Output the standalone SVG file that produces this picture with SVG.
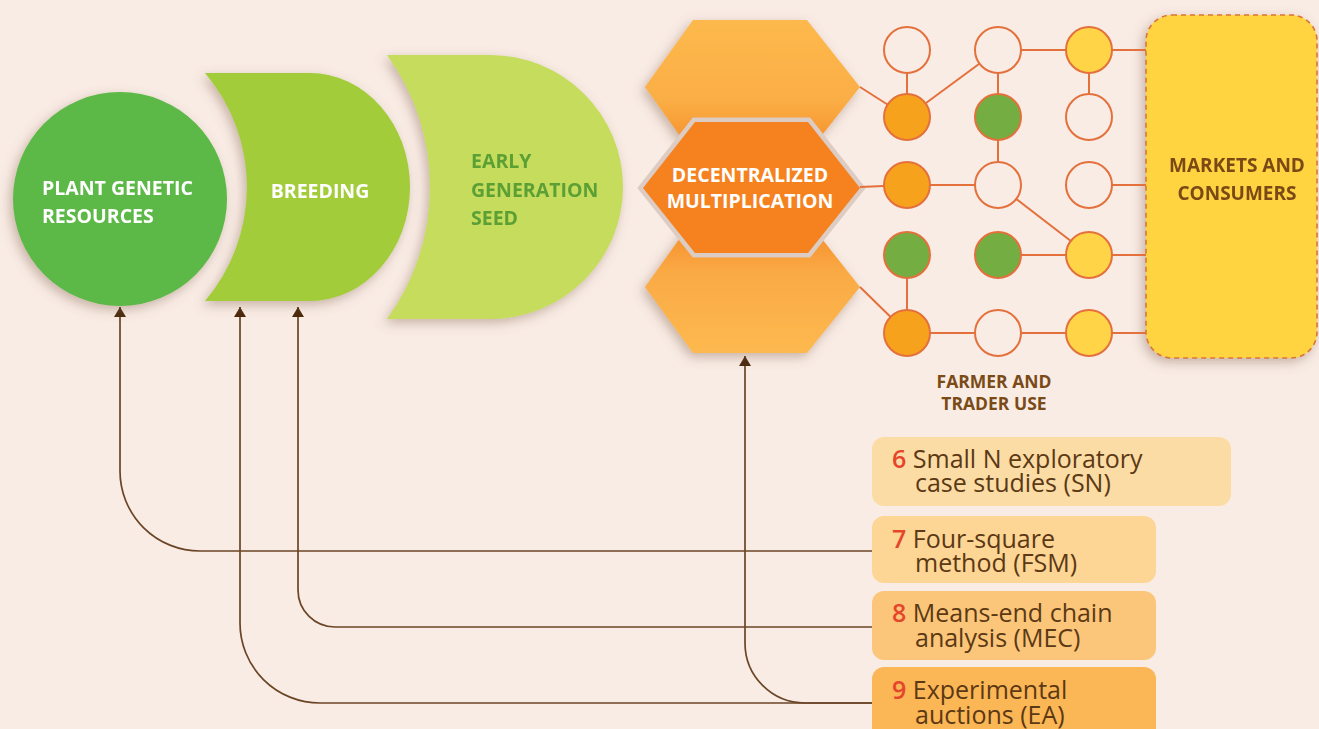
<svg xmlns="http://www.w3.org/2000/svg" width="1319" height="729" viewBox="0 0 1319 729">
<defs>
<filter id="sh" x="-20%" y="-20%" width="140%" height="140%">
<feDropShadow dx="-3" dy="4" stdDeviation="6" flood-color="#7a5646" flood-opacity="0.4"/>
</filter>
<linearGradient id="hexTop" x1="0" y1="0" x2="0" y2="1">
<stop offset="0" stop-color="#FDB94D"/><stop offset="0.6" stop-color="#FBAE45"/><stop offset="1" stop-color="#F48A27"/>
</linearGradient>
<linearGradient id="hexBot" x1="0" y1="0" x2="0" y2="1">
<stop offset="0" stop-color="#F48A27"/><stop offset="0.4" stop-color="#FAAA45"/><stop offset="1" stop-color="#FDB94F"/>
</linearGradient>
<marker id="arr" viewBox="0 0 10 12" refX="10" refY="6" markerWidth="10" markerHeight="12" markerUnits="userSpaceOnUse" orient="auto">
<path d="M0,0 L10,6 L0,12 Z" fill="#4B2A0C"/>
</marker>
<style>
.lbl{font-family:"Open Sans","Liberation Sans",sans-serif;font-weight:bold;}
.w{fill:#FFFFFF;}
.br{fill:#7A4A17;}
.net line{stroke:#E4703C;stroke-width:2;}
.nd{stroke:#E4703C;stroke-width:2;}
.e{fill:#F9ECE5;}
.o{fill:#F7A21D;}
.g{fill:#74AD41;}
.y{fill:#FFD447;}
.leg{font-family:"Open Sans","Liberation Sans",sans-serif;font-size:25px;fill:#5B3914;}
.num{font-weight:600;fill:#E5452A;}
.conn{fill:none;stroke:#6B4526;stroke-width:1.7;}
</style>
</defs>
<rect width="1319" height="729" fill="#F9ECE5"/>

<g id="connectors">
<path class="conn" d="M872,551 L200,551 A80,80 0 0 1 120,471 L120,307" marker-end="url(#arr)"/>
<path class="conn" d="M872,627 L335,627 A37,37 0 0 1 298,590 L298,307" marker-end="url(#arr)"/>
<path class="conn" d="M872,703 L320,703 A80,80 0 0 1 240,623 L240,307" marker-end="url(#arr)"/>
<path class="conn" d="M872,703 L805,703 A60,60 0 0 1 745,643 L745,356" marker-end="url(#arr)"/>
</g>

<g id="plant-genetic-resources" filter="url(#sh)">
<circle cx="120" cy="199" r="107" fill="#5CB847"/>
<text class="lbl w" font-size="19.5" x="42" y="195">PLANT GENETIC</text>
<text class="lbl w" font-size="19.5" x="42" y="223">RESOURCES</text>
</g>

<g id="breeding" filter="url(#sh)">
<path d="M205,73 L310,73 A100,114 0 0 1 310,301 L205,301 A176,176 0 0 0 205,73 Z" fill="#A3CC3A"/>
<text class="lbl w" font-size="19.5" x="320" y="198" text-anchor="middle">BREEDING</text>
</g>

<g id="early-generation-seed" filter="url(#sh)">
<path d="M387,55 L490,55 A133,132 0 0 1 490,319 L387,319 A224,224 0 0 0 387,55 Z" fill="#C6DC5D"/>
<text class="lbl" font-size="19.5" fill="#5BA035" x="471" y="168">EARLY</text>
<text class="lbl" font-size="19.5" fill="#5BA035" x="471" y="197">GENERATION</text>
<text class="lbl" font-size="19.5" fill="#5BA035" x="471" y="225">SEED</text>
</g>

<g id="hex-top" filter="url(#sh)">
<polygon points="693,20 807,20 860,87 807,154 693,154 645,87" fill="url(#hexTop)"/>
</g>
<g id="hex-bottom" filter="url(#sh)">
<polygon points="693,220 807,220 860,287 807,353 693,353 645,287" fill="url(#hexBot)"/>
</g>
<g id="decentralized-multiplication">
<polygon points="695,122 808,122 860,188 808,253 695,253 643,188" fill="#F5821F" stroke="#DCCCC3" stroke-width="9" stroke-linejoin="miter" paint-order="stroke"/>
<text class="lbl w" font-size="19.5" x="750" y="182" text-anchor="middle">DECENTRALIZED</text>
<text class="lbl w" font-size="19.5" x="750" y="208" text-anchor="middle">MULTIPLICATION</text>
</g>

<g id="markets-and-consumers" filter="url(#sh)">
<rect x="1146" y="15" width="171" height="343" rx="26" fill="#FFD43F" stroke="#D9763A" stroke-width="1.6" stroke-dasharray="5,4"/>
<text class="lbl br" font-size="19" x="1237" y="172" text-anchor="middle">MARKETS AND</text>
<text class="lbl br" font-size="19" x="1237" y="200" text-anchor="middle">CONSUMERS</text>
</g>

<g id="network" class="net">
<line x1="860" y1="87" x2="907" y2="117"/>
<line x1="860" y1="187" x2="907" y2="185"/>
<line x1="860" y1="287" x2="907" y2="333"/>
<line x1="907" y1="50" x2="907" y2="117"/>
<line x1="907" y1="117" x2="998" y2="50"/>
<line x1="998" y1="50" x2="1089" y2="50"/>
<line x1="1089" y1="50" x2="1146" y2="50"/>
<line x1="998" y1="50" x2="998" y2="117"/>
<line x1="1089" y1="50" x2="1089" y2="117"/>
<line x1="998" y1="117" x2="998" y2="185"/>
<line x1="907" y1="185" x2="998" y2="185"/>
<line x1="998" y1="185" x2="1089" y2="255"/>
<line x1="1089" y1="185" x2="1146" y2="185"/>
<line x1="998" y1="255" x2="1089" y2="255"/>
<line x1="1089" y1="255" x2="1146" y2="255"/>
<line x1="907" y1="255" x2="907" y2="333"/>
<line x1="907" y1="333" x2="1146" y2="333"/>
</g>
<g id="nodes">
<circle class="nd e" cx="907" cy="50" r="23"/>
<circle class="nd o" cx="907" cy="117" r="23"/>
<circle class="nd o" cx="907" cy="185" r="23"/>
<circle class="nd g" cx="907" cy="255" r="23"/>
<circle class="nd o" cx="907" cy="333" r="23"/>
<circle class="nd e" cx="998" cy="50" r="23"/>
<circle class="nd g" cx="998" cy="117" r="23"/>
<circle class="nd e" cx="998" cy="185" r="23"/>
<circle class="nd g" cx="998" cy="255" r="23"/>
<circle class="nd e" cx="998" cy="333" r="23"/>
<circle class="nd y" cx="1089" cy="50" r="23"/>
<circle class="nd e" cx="1089" cy="117" r="23"/>
<circle class="nd e" cx="1089" cy="185" r="23"/>
<circle class="nd y" cx="1089" cy="255" r="23"/>
<circle class="nd y" cx="1089" cy="333" r="23"/>
</g>
<g id="farmer-trader-use">
<text class="lbl br" font-size="17.5" x="994" y="388" text-anchor="middle">FARMER AND</text>
<text class="lbl br" font-size="17.5" x="994" y="410" text-anchor="middle">TRADER USE</text>
</g>

<g id="legend-6">
<rect x="872" y="437" width="359" height="69" rx="12" fill="#FCDCA5"/>
<text class="leg" x="892" y="468"><tspan class="num">6</tspan> Small N exploratory</text>
<text class="leg" x="915" y="492">case studies (SN)</text>
</g>
<g id="legend-7">
<rect x="872" y="516" width="284" height="67" rx="12" fill="#FDD595"/>
<text class="leg" x="892" y="548"><tspan class="num">7</tspan> Four-square</text>
<text class="leg" x="915" y="572">method (FSM)</text>
</g>
<g id="legend-8">
<rect x="872" y="591" width="284" height="69" rx="12" fill="#FCC67A"/>
<text class="leg" x="892" y="622"><tspan class="num">8</tspan> Means-end chain</text>
<text class="leg" x="915" y="647">analysis (MEC)</text>
</g>
<g id="legend-9">
<rect x="872" y="667" width="284" height="80" rx="12" fill="#FBB656"/>
<text class="leg" x="892" y="699"><tspan class="num">9</tspan> Experimental</text>
<text class="leg" x="915" y="724">auctions (EA)</text>
</g>
</svg>
